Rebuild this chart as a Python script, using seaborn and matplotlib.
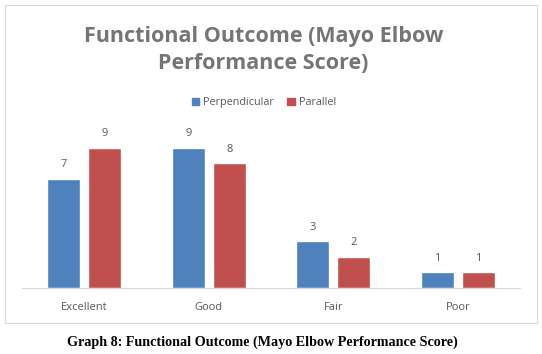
import pandas as pd
import seaborn as sns
import matplotlib.pyplot as plt
from matplotlib.patches import Rectangle

categories = ['Excellent', 'Good', 'Fair', 'Poor']
perpendicular = [7, 9, 3, 1]
parallel = [9, 8, 2, 1]
series_names = ['Perpendicular', 'Parallel']

df = pd.DataFrame({
    'grade': categories * 2,
    'count': perpendicular + parallel,
    'group': [series_names[0]] * 4 + [series_names[1]] * 4,
})

sns.set_style('white')
plt.rcParams['font.family'] = ['Open Sans', 'DejaVu Sans']

fig = plt.figure(figsize=(5.42, 3.54), dpi=100)
ax = fig.add_axes([22 / 542, 1 - 288 / 354, 498 / 542, 156 / 354])

sns.barplot(data=df, x='grade', y='count', hue='group', order=categories,
            hue_order=series_names, palette=['#4F81BD', '#C0504D'],
            saturation=1, width=0.66, gap=0.2, ax=ax, legend=False)

for cont in ax.containers:
    ax.bar_label(cont, padding=6, fontsize=8, color='#595959')

ax.set_ylim(0, 10)
ax.set_xlim(-0.5, 3.5)
ax.set_xlabel('')
ax.set_ylabel('')
ax.set_yticks([])
ax.tick_params(axis='x', length=0, labelsize=8, labelcolor='#595959', pad=10)
for s in ['top', 'right', 'left']:
    ax.spines[s].set_visible(False)
ax.spines['bottom'].set_color('#D9D9D9')
ax.spines['bottom'].set_linewidth(0.8)

# chart border
fig.add_artist(Rectangle((5 / 542, 1 - 323 / 354), 532 / 542, 318 / 354,
                         transform=fig.transFigure, fill=False,
                         edgecolor='#D9D9D9', linewidth=0.8))

fig.text(0.486, 1 - 50 / 354, 'Functional Outcome (Mayo Elbow\nPerformance Score)',
         ha='center', va='center', fontsize=15.5, fontweight='bold',
         color='#757575', linespacing=1.35)

# legend
handles = [Rectangle((0, 0), 1, 1, color=c) for c in ['#4F81BD', '#C0504D']]
fig.legend(handles, series_names, loc='center', bbox_to_anchor=(0.487, 1 - 103 / 354),
           ncol=2, frameon=False, fontsize=7.8, labelcolor='#595959',
           handlelength=0.7, handleheight=0.7, handletextpad=0.4, columnspacing=1.2)

fig.text(0.485, 1 - 342 / 354, 'Graph 8: Functional Outcome (Mayo Elbow Performance Score)',
         ha='center', va='center', fontsize=10.2, fontweight='bold',
         family='Liberation Serif', color='black')

plt.savefig('out.png', dpi=100)
